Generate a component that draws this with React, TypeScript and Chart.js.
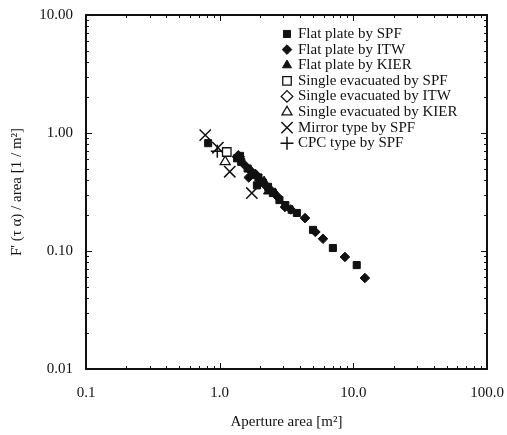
import React, { useEffect, useRef } from "react";
import { Chart, registerables } from "chart.js";
import { drawPoint } from "chart.js/helpers";

Chart.register(...registerables);

// ---- tick labels ----
const xTickValues = [0.1, 1, 10, 100];
const xTickLabels = ["0.1", "1.0", "10.0", "100.0"];
const yTickValues = [0.01, 0.1, 1, 10];
const yTickLabels = ["0.01", "0.10", "1.00", "10.00"];

const xTitle = "Aperture area [m²]";
const yTitle = "F' (τ α) / area [1 / m²]";

// ---- series (x = aperture area m², y = F'(τα)/area) ----
const flatSpfX = [0.82, 1.35, 1.42, 1.45, 1.62, 1.8, 1.9, 1.95, 2.1, 2.3, 2.5, 2.8, 3.1, 3.78, 4.99, 7.03, 10.6];
const flatSpfY = [0.82, 0.61, 0.64, 0.57, 0.5, 0.44, 0.36, 0.42, 0.38, 0.35, 0.31, 0.27, 0.245, 0.21, 0.151, 0.106, 0.076];

const flatItwX = [1.55, 1.65, 1.7, 1.85, 2.0, 2.2, 2.4, 2.7, 3.08, 3.4, 4.35, 5.2, 5.93, 8.65, 12.2];
const flatItwY = [0.53, 0.42, 0.48, 0.45, 0.4, 0.36, 0.33, 0.29, 0.236, 0.225, 0.19, 0.145, 0.127, 0.089, 0.059];

const flatKierX = [1.75, 2.15, 2.3, 2.6, 3.5];
const flatKierY = [0.46, 0.39, 0.32, 0.31, 0.22];

const evacSpfX = [1.13];
const evacSpfY = [0.69];

const evacItwX = [1.38];
const evacItwY = [0.63];

const evacKierX = [1.1];
const evacKierY = [0.57];

const mirrorX = [0.78, 0.97, 1.19, 1.74];
const mirrorY = [0.96, 0.75, 0.47, 0.31];

const cpcX = [0.96];
const cpcY = [0.7];

const seriesNames = [
  "Flat plate by SPF",
  "Flat plate by ITW",
  "Flat plate by KIER",
  "Single evacuated by SPF",
  "Single evacuated by ITW",
  "Single evacuated by KIER",
  "Mirror type by SPF",
  "CPC type by SPF",
];

const zip = (xs: number[], ys: number[]) => xs.map((x, i) => ({ x, y: ys[i] }));

const INK = "#111";
const SERIF = "'Liberation Serif', 'DejaVu Serif', serif";

type Sty = { pointStyle: any; radius: number; fill: string; borderWidth: number };
const styles: Sty[] = [
  { pointStyle: "rect", radius: 5, fill: INK, borderWidth: 1 },
  { pointStyle: "rectRot", radius: 4.8, fill: INK, borderWidth: 1 },
  { pointStyle: "triangle", radius: 5.2, fill: INK, borderWidth: 1 },
  { pointStyle: "rect", radius: 6, fill: "#fff", borderWidth: 1.3 },
  { pointStyle: "rectRot", radius: 5.8, fill: "#fff", borderWidth: 1.3 },
  { pointStyle: "triangle", radius: 5.8, fill: "#fff", borderWidth: 1.3 },
  { pointStyle: "crossRot", radius: 8, fill: INK, borderWidth: 1.5 },
  { pointStyle: "cross", radius: 6.5, fill: INK, borderWidth: 1.5 },
];

const seriesData = [
  zip(flatSpfX, flatSpfY),
  zip(flatItwX, flatItwY),
  zip(flatKierX, flatKierY),
  zip(evacSpfX, evacSpfY),
  zip(evacItwX, evacItwY),
  zip(evacKierX, evacKierY),
  zip(mirrorX, mirrorY),
  zip(cpcX, cpcY),
];

const framePlugin = {
  id: "framePlugin",
  afterDraw(chart: any) {
    const { ctx, chartArea, scales } = chart;
    const { left, right, top, bottom } = chartArea;
    ctx.save();
    ctx.strokeStyle = INK;
    ctx.lineWidth = 1;
    const xs = scales.x;
    const ys = scales.y;
    for (let e = -1; e <= 2; e++) {
      for (let m = 1; m <= 9; m++) {
        const v = m * Math.pow(10, e);
        if (v < 0.1 - 1e-9 || v > 100 + 1e-9) continue;
        const px = Math.round(xs.getPixelForValue(v)) + 0.5;
        const len = m === 1 ? 6 : 3;
        ctx.beginPath();
        ctx.moveTo(px, bottom);
        ctx.lineTo(px, bottom - len);
        ctx.moveTo(px, top);
        ctx.lineTo(px, top + len);
        ctx.stroke();
      }
    }
    for (let e = -2; e <= 1; e++) {
      for (let m = 1; m <= 9; m++) {
        const v = m * Math.pow(10, e);
        if (v < 0.01 - 1e-9 || v > 10 + 1e-9) continue;
        const py = Math.round(ys.getPixelForValue(v)) + 0.5;
        const len = m === 1 ? 6 : 3;
        ctx.beginPath();
        ctx.moveTo(left, py);
        ctx.lineTo(left + len, py);
        ctx.moveTo(right, py);
        ctx.lineTo(right - len, py);
        ctx.stroke();
      }
    }
    // frame
    ctx.lineWidth = 2;
    ctx.strokeRect(left, top, right - left, bottom - top);

    // axis titles
    ctx.fillStyle = INK;
    ctx.font = `15px ${SERIF}`;
    ctx.textAlign = "center";
    ctx.textBaseline = "middle";
    ctx.fillText(xTitle, (left + right) / 2, 422);
    ctx.save();
    ctx.translate(17, (top + bottom) / 2);
    ctx.rotate(-Math.PI / 2);
    ctx.fillText(yTitle, 0, 0);
    ctx.restore();

    // legend
    const lx = 287;
    const tx = 298;
    const y0 = 34;
    const dy = 15.6;
    ctx.font = `15px ${SERIF}`;
    ctx.textAlign = "left";
    ctx.textBaseline = "middle";
    seriesNames.forEach((name, i) => {
      const s = styles[i];
      const y = y0 + i * dy;
      ctx.fillStyle = s.fill;
      ctx.strokeStyle = INK;
      ctx.lineWidth = s.borderWidth;
      drawPoint(ctx, { pointStyle: s.pointStyle, rotation: 0, radius: s.radius, borderWidth: s.borderWidth }, lx, y);
      ctx.fillStyle = INK;
      ctx.fillText(name, tx, y);
    });
    ctx.restore();
  },
};

export default function App() {
  const ref = useRef<HTMLCanvasElement | null>(null);
  useEffect(() => {
    if (!ref.current) return;
    const chart = new Chart(ref.current, {
      type: "scatter",
      data: {
        datasets: seriesData.map((d, i) => ({
          label: seriesNames[i],
          data: d,
          pointStyle: styles[i].pointStyle,
          pointRadius: styles[i].radius,
          pointBackgroundColor: styles[i].fill,
          pointBorderColor: INK,
          pointBorderWidth: styles[i].borderWidth,
          showLine: false,
        })),
      },
      options: {
        animation: false,
        responsive: false,
        devicePixelRatio: 1,
        layout: { padding: { top: 15, right: 20, left: 0, bottom: 0 } },
        plugins: { legend: { display: false }, tooltip: { enabled: false } },
        scales: {
          x: {
            type: "logarithmic",
            position: "bottom",
            min: 0.1,
            max: 100,
            grid: { display: false, drawTicks: false },
            border: { display: false },
            afterBuildTicks: (s: any) => {
              s.ticks = xTickValues.map((v) => ({ value: v }));
            },
            afterFit: (s: any) => {
              s.height = 66;
              s.paddingLeft = 0;
              s.paddingRight = 0;
            },
            ticks: {
              autoSkip: false,
              maxRotation: 0,
              padding: 15,
              color: INK,
              font: { family: SERIF, size: 15 },
              callback: (_v: any, i: number) => xTickLabels[i],
            },
          },
          y: {
            type: "logarithmic",
            position: "left",
            min: 0.01,
            max: 10,
            grid: { display: false, drawTicks: false },
            border: { display: false },
            afterBuildTicks: (s: any) => {
              s.ticks = yTickValues.map((v) => ({ value: v }));
            },
            afterFit: (s: any) => {
              s.width = 86;
              s.paddingTop = 0;
              s.paddingBottom = 0;
            },
            ticks: {
              autoSkip: false,
              padding: 13,
              color: INK,
              font: { family: SERIF, size: 15 },
              callback: (_v: any, i: number) => yTickLabels[i],
            },
          },
        },
      },
      plugins: [framePlugin],
    } as any);
    return () => chart.destroy();
  }, []);
  return (
    <div style={{ position: "absolute", left: 0, top: 0, width: 507, height: 435, background: "#fff" }}>
      <canvas ref={ref} width={507} height={435} />
    </div>
  );
}
